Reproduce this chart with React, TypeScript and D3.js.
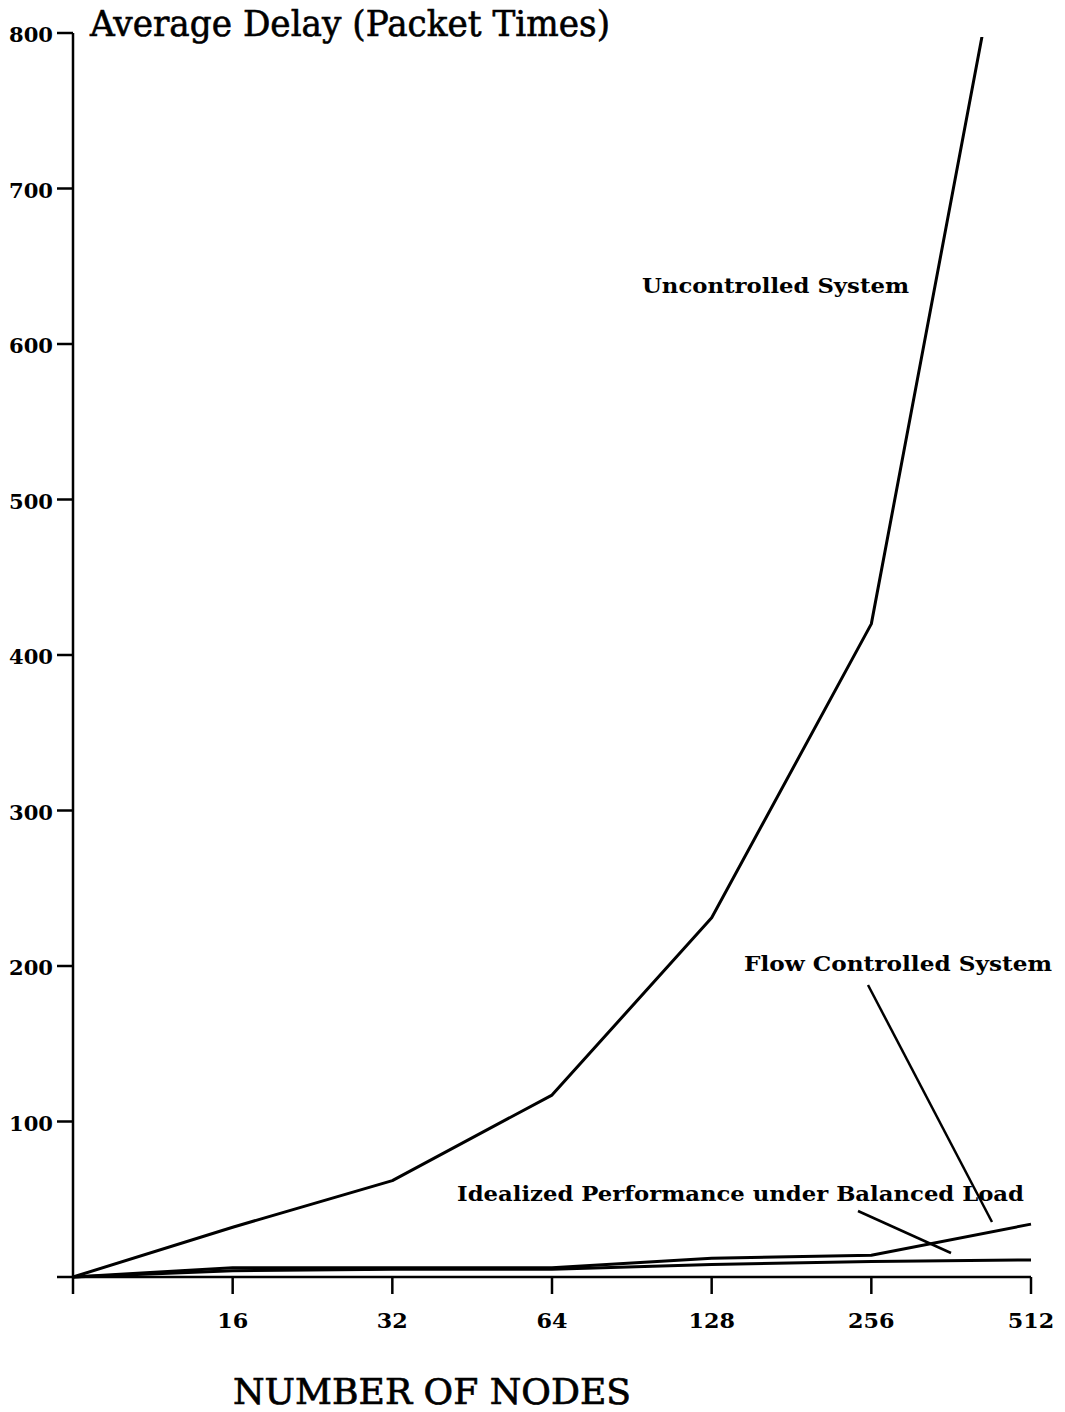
import React from "react";
import * as d3 from "d3";

const nodes = [8, 16, 32, 64, 128, 256, 512];
const uncontrolled = [0, 32, 62, 117, 231, 420, 965];
const flowControlled = [0, 6, 6, 6, 12, 14, 34];
const idealized = [0, 4, 5, 5, 8, 10, 11];
const xTicks = [8, 16, 32, 64, 128, 256, 512];
const xTickLabels = ["", "16", "32", "64", "128", "256", "512"];
const yTicks = [0, 100, 200, 300, 400, 500, 600, 700, 800];
const yTickLabels = ["", "100", "200", "300", "400", "500", "600", "700", "800"];

const W = 1065;
const H = 1412;
const FONT = "'DejaVu Serif', 'Liberation Serif', serif";

export default function App() {
  const x = d3.scaleLog().base(2).domain([8, 512]).range([73, 1031]);
  const y = d3.scaleLinear().domain([0, 800]).range([1277, 33]);
  const line = d3
    .line<number>()
    .x((_, i) => x(nodes[i]))
    .y((d) => y(d));

  const seriesList = [uncontrolled, flowControlled, idealized];

  return (
    <svg
      width={W}
      height={H}
      style={{ position: "absolute", left: 0, top: 0, background: "#fff" }}
      fontFamily={FONT}
    >
      <defs>
        <clipPath id="plotclip">
          <rect x={60} y={y(800) + 4} width={1000} height={1300} />
        </clipPath>
      </defs>
      <rect x={0} y={0} width={W} height={H} fill="#fff" />

      {/* Y axis */}
      <line x1={x(8)} x2={x(8)} y1={y(800)} y2={y(0)} stroke="#000" strokeWidth={2.5} />
      {yTicks.map((t, i) => (
        <g key={"yt" + t}>
          <line x1={x(8) - 16} x2={x(8)} y1={y(t)} y2={y(t)} stroke="#000" strokeWidth={2.5} />
          {yTickLabels[i] && (
            <text
              x={53}
              y={y(t) + 9}
              textAnchor="end"
              fontSize={21}
              fontWeight="bold"
              textLength={44}
              lengthAdjust="spacingAndGlyphs"
            >
              {yTickLabels[i]}
            </text>
          )}
        </g>
      ))}

      {/* X axis */}
      <line x1={x(8)} x2={x(512)} y1={y(0)} y2={y(0)} stroke="#000" strokeWidth={2.5} />
      {xTicks.map((t, i) => (
        <g key={"xt" + t}>
          <line x1={x(t)} x2={x(t)} y1={y(0)} y2={y(0) + 17} stroke="#000" strokeWidth={2.5} />
          {xTickLabels[i] && (
            <text
              x={x(t)}
              y={1328}
              textAnchor="middle"
              fontSize={21}
              fontWeight="bold"
              textLength={xTickLabels[i].length * 15.5}
              lengthAdjust="spacingAndGlyphs"
            >
              {xTickLabels[i]}
            </text>
          )}
        </g>
      ))}

      {/* Series */}
      <g clipPath="url(#plotclip)">
        {seriesList.map((s, i) => (
          <path
            key={"s" + i}
            d={line(s) || ""}
            fill="none"
            stroke="#000"
            strokeWidth={3}
            strokeLinejoin="round"
          />
        ))}
      </g>

      {/* Titles */}
      <text
        x={90}
        y={36}
        fontSize={35}
        stroke="#000"
        strokeWidth={0.6}
        textLength={520}
        lengthAdjust="spacingAndGlyphs"
      >
        Average Delay (Packet Times)
      </text>
      <text
        x={233}
        y={1404}
        fontSize={36}
        stroke="#000"
        strokeWidth={0.7}
        textLength={398}
        lengthAdjust="spacingAndGlyphs"
      >
        NUMBER OF NODES
      </text>

      {/* Annotations */}
      <text x={642} y={293} fontSize={21} fontWeight="bold" textLength={267} lengthAdjust="spacingAndGlyphs">
        Uncontrolled System
      </text>
      <text x={744} y={971} fontSize={21} fontWeight="bold" textLength={308} lengthAdjust="spacingAndGlyphs">
        Flow Controlled System
      </text>
      <line x1={868} y1={985} x2={992} y2={1222} stroke="#000" strokeWidth={2.5} />
      <text x={457} y={1201} fontSize={21} fontWeight="bold" textLength={567} lengthAdjust="spacingAndGlyphs">
        Idealized Performance under Balanced Load
      </text>
      <line x1={858} y1={1211} x2={951} y2={1253} stroke="#000" strokeWidth={2.5} />
    </svg>
  );
}
